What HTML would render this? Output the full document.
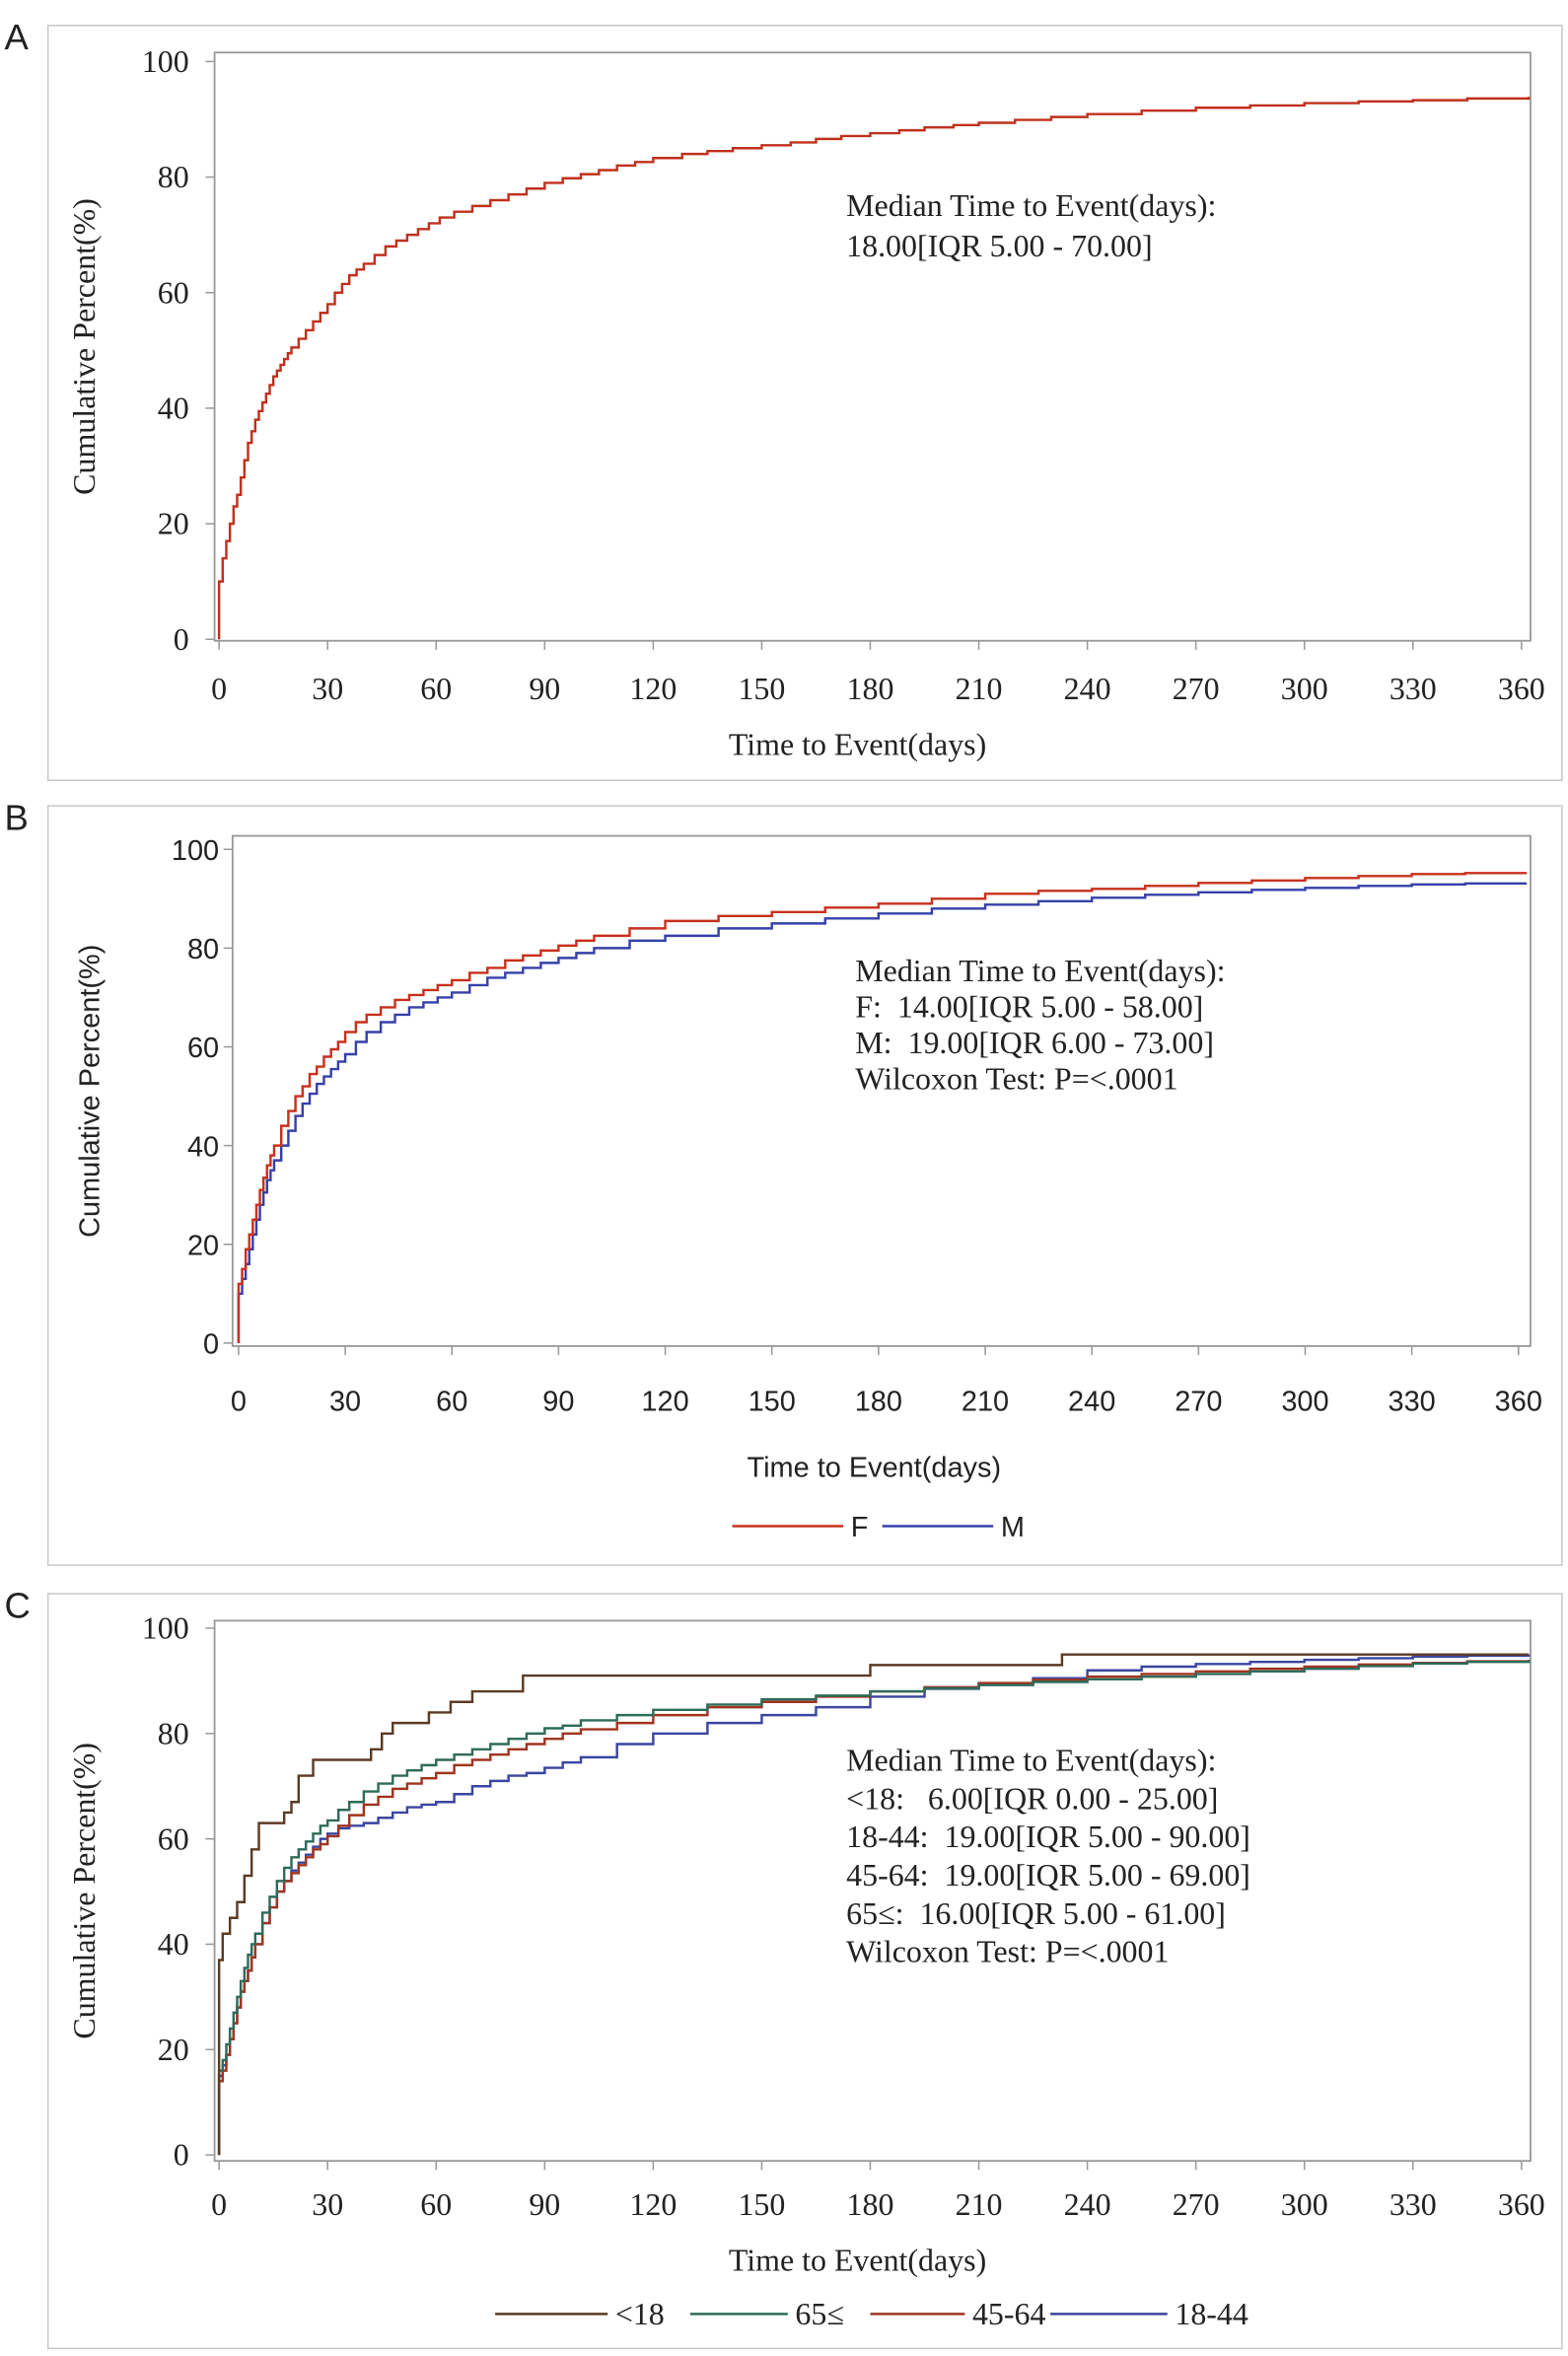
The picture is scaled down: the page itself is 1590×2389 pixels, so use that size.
<!DOCTYPE html>
<html><head><meta charset="utf-8"><style>html,body{margin:0;padding:0;background:#fff}svg{display:block}</style></head>
<body>
<svg id="fig" width="1590" height="2389" viewBox="0 0 1045 1570" preserveAspectRatio="none" xmlns="http://www.w3.org/2000/svg"></svg>
<script>
// Panel A data
const aDays=[0,0,1,2,3,4,5,6,7,8,9,10,11,12,13,14,15,16,17,18,19,20,22,24,26,28,30,32,34,36,38,40,43,46,49,52,55,58,61,65,70,75,80,85,90,95,100,105,110,115,120,128,135,142,150,158,165,172,180,188,195,203,210,220,230,240,255,270,285,300,315,330,345,362];
const aPct=[0,10,14,17,20,23,25,28,31,34,36,38,39.5,41,42.5,44,45.5,46.5,47.5,48.5,49.5,50.5,52,53.5,55,56.5,58,60,61.5,63,64,65,66.5,68,69,70,71,72,73,74,75,76,77,78,79,79.8,80.5,81.2,82,82.6,83.3,84,84.5,85,85.5,86,86.6,87.1,87.6,88.1,88.6,89,89.4,89.9,90.4,90.9,91.5,92,92.4,92.8,93.1,93.3,93.6,93.9];
// Panel B data
const bDays=[0,0,1,2,3,4,5,6,7,8,9,10,12,14,16,18,20,22,24,26,28,30,33,36,40,44,48,52,56,60,65,70,75,80,85,90,95,100,110,120,135,150,165,180,195,210,225,240,255,270,285,300,315,330,345,362];
const bF=[0,12,15,19,22,25,28,31,33.5,36,38,40,44,47,50,52,54.5,56,58,59.5,61,63,65,66.5,68,69.5,70.5,71.5,72.5,73.5,75,76,77.5,78.5,79.5,80.5,81.5,82.5,84,85.5,86.5,87.3,88.2,89,90,91,91.6,92,92.6,93.2,93.7,94.2,94.6,95,95.2,95.4];
const bM=[0,10,13,16,19,22,25,28,30.5,33,35,37,40,43,46,48.5,50.5,52.5,54,55.5,57,58.5,61,63,65,66.5,68,69,70,71,72.5,74,75,76,77,78,79,80,81.5,82.5,84,85,86,87,88,88.8,89.5,90.2,90.8,91.3,91.8,92.2,92.6,92.9,93.1,93.3];
// Panel C data
const c1Days=[0,0,1,3,5,7,9,11,16,18,20,22,26,42,45,48,58,64,70,84,180,233,362];
const c1=[0,37,42,45,48,53,58,63,63,65,67,72,75,77,80,82,84,86,88,91,93,95,95];
const cDays=[0,0,1,2,3,4,5,6,7,8,9,10,12,14,16,18,20,22,24,26,28,30,33,36,40,44,48,52,56,60,65,70,75,80,85,90,95,100,110,120,135,150,165,180,195,210,225,240,255,270,285,300,315,330,345,362];
const c65=[0,16,18,21,24,27,30,33,35.5,38,40,42,46,49,52,54.5,56.5,58,59.5,61,62.5,63.5,65.5,67,69,70.5,72,73,74,75,76,77,78,79,80,81,81.5,82.5,83.5,84.5,85.5,86.5,87.2,88,88.6,89.2,89.8,90.3,90.8,91.3,91.8,92.3,92.8,93.3,93.6,94];
const c45=[0,14,16,19,22,25,28,31,33,35,37.5,40,44,47,50,52,53.5,55,56.5,58,59,60.5,62.5,64.5,66.5,68,69.5,70.5,71.5,72.5,74,75,76,77,78,79,80,80.8,82,83.5,85,86,87,88,88.8,89.6,90.2,90.8,91.3,91.8,92.3,92.7,93.1,93.4,93.7,94];
const c18=[0,15,17,19,22,25,28,31,33,35,37.5,40,44,47,50,52,54,55.5,57,58.5,60,61,62,62.5,63,64,65,66,66.5,67,68.5,70,71,72,72.5,73.5,74.5,75.5,78,80,82,83.5,85,87,88.5,89.5,90.5,92,92.7,93.2,93.6,94,94.3,94.6,94.8,95];
const xTicks=[0,30,60,90,120,150,180,210,240,270,300,330,360];
const yTicks=[0,20,40,60,80,100];

const NS="http://www.w3.org/2000/svg";
const svg=document.getElementById('fig');
function mk(tag,attrs,parent,text){const e=document.createElementNS(NS,tag);for(const k in attrs)e.setAttribute(k,attrs[k]);if(text!==undefined)e.textContent=text;(parent||svg).appendChild(e);return e;}

function panel(cfg){
  const g=mk('g',{});
  
  
  const ff=cfg.sans?'"Liberation Sans", sans-serif':'"Liberation Serif", serif';
  const fs=cfg.sans?19:21;
  let r=mk('rect',{x:32,y:cfg.by,width:1009,height:cfg.bh,fill:'none',stroke:'#c8c8c8','stroke-width':1},g);
  
  let t=mk('text',{x:3,y:cfg.by+16,'font-family':'"Liberation Sans", sans-serif','font-size':24,fill:'#222'},g,cfg.letter);
  
  const X=d=>cfg.x0+(cfg.x1-cfg.x0)*d/360, Y=p=>cfg.y0+(cfg.y1-cfg.y0)*p/100;
  r=mk('rect',{x:cfg.px0,y:cfg.py0,width:cfg.px1-cfg.px0,height:cfg.py1-cfg.py0,fill:'none',stroke:'#999','stroke-width':1.2},g);
  
  yTicks.forEach(v=>{
    mk('line',{x1:cfg.px0-6,x2:cfg.px0,y1:Y(v),y2:Y(v),stroke:'#999'},g);
    const tx=mk('text',{x:cfg.px0-(cfg.sans?9:17),y:Y(v)+7,'text-anchor':'end','font-family':ff,'font-size':fs,fill:'#222'},g,String(v));
    
  });
  xTicks.forEach(v=>{
    mk('line',{x1:X(v),x2:X(v),y1:cfg.py1,y2:cfg.py1+6,stroke:'#999'},g);
    const tx=mk('text',{x:X(v),y:cfg.xly,'text-anchor':'middle','font-family':ff,'font-size':fs,fill:'#222'},g,String(v));
    
  });
  t=mk('text',{x:(cfg.px0+cfg.px1)/2+(cfg.sans?-5:-10),y:cfg.xty,'text-anchor':'middle','font-family':ff,'font-size':fs,fill:'#222'},g,'Time to Event(days)');
  
  const cy=(cfg.py0+cfg.py1)/2;
  t=mk('text',{x:cfg.ytx,y:cy,'text-anchor':'middle','font-family':ff,'font-size':fs,fill:'#222',transform:`rotate(-90 ${cfg.ytx} ${cy})`},g,'Cumulative Percent(%)');
  
  cfg.series.forEach(s=>{
    let d=`M${X(s.days[0])},${Y(s.vals[0])}`;
    for(let i=1;i<s.days.length;i++){d+=`H${X(s.days[i])}V${Y(s.vals[i])}`;}
    const p=mk('path',{d:d,fill:'none',stroke:s.color,'stroke-width':1.6},g);
    
  });
  cfg.notes.forEach((n,i)=>{
    const tx=mk('text',{x:cfg.nx,y:cfg.ny+i*cfg.nstep,'font-family':'"Liberation Serif", serif','font-size':21,fill:'#222',style:'white-space:pre'},g,n);
    
  });
  (cfg.legend||[]).forEach(l=>{
    mk('line',{x1:l.x1,x2:l.x2,y1:cfg.ly,y2:cfg.ly,stroke:l.color,'stroke-width':1.6},g);
    const tx=mk('text',{x:l.x2+5,y:cfg.ly+7,'font-family':ff,'font-size':fs,fill:'#222'},g,l.label);
    
  });
}

panel({letter:'A',by:17,bh:503,px0:143,px1:1020,py0:35,py1:427,x0:146,x1:1014,y0:426,y1:41,xly:466,xty:503,ytx:63,
  series:[{name:'overall',days:aDays,vals:aPct,color:'#c0301c'}],
  notes:['Median Time to Event(days):','18.00[IQR 5.00 - 70.00]'],nx:564,ny:144,nstep:27});
panel({letter:'B',by:537,bh:506,sans:true,px0:155,px1:1020,py0:557,py1:897,x0:159,x1:1012,y0:895,y1:566,xly:940,xty:984,ytx:66,
  series:[{name:'m',days:bDays,vals:bM,color:'#3640a8'},{name:'f',days:bDays,vals:bF,color:'#c8301c'}],
  notes:['Median Time to Event(days):','F:  14.00[IQR 5.00 - 58.00]','M:  19.00[IQR 6.00 - 73.00]','Wilcoxon Test: P=<.0001'],nx:570,ny:654,nstep:24,
  ly:1017,legend:[{x1:488,x2:562,color:'#c8301c',label:'F'},{x1:588,x2:662,color:'#3640a8',label:'M'}]});
panel({letter:'C',by:1062,bh:503,px0:143,px1:1020,py0:1080,py1:1440,x0:146,x1:1014,y0:1436,y1:1085,xly:1476,xty:1513,ytx:63,
  series:[{name:'18-44',days:cDays,vals:c18,color:'#3b45a0'},{name:'45-64',days:cDays,vals:c45,color:'#a0341f'},{name:'65-plus',days:cDays,vals:c65,color:'#2e6b5a'},{name:'under-18',days:c1Days,vals:c1,color:'#5b3a24'}],
  notes:['Median Time to Event(days):','<18:   6.00[IQR 0.00 - 25.00]','18-44:  19.00[IQR 5.00 - 90.00]','45-64:  19.00[IQR 5.00 - 69.00]','65≤:  16.00[IQR 5.00 - 61.00]','Wilcoxon Test: P=<.0001'],nx:564,ny:1180,nstep:25.5,
  ly:1542,legend:[{x1:330,x2:405,color:'#5b3a24',label:'<18'},{x1:460,x2:525,color:'#2e6b5a',label:'65≤'},{x1:580,x2:643,color:'#a0341f',label:'45-64'},{x1:700,x2:778,color:'#3b45a0',label:'18-44'}]});
</script>
</body></html>
